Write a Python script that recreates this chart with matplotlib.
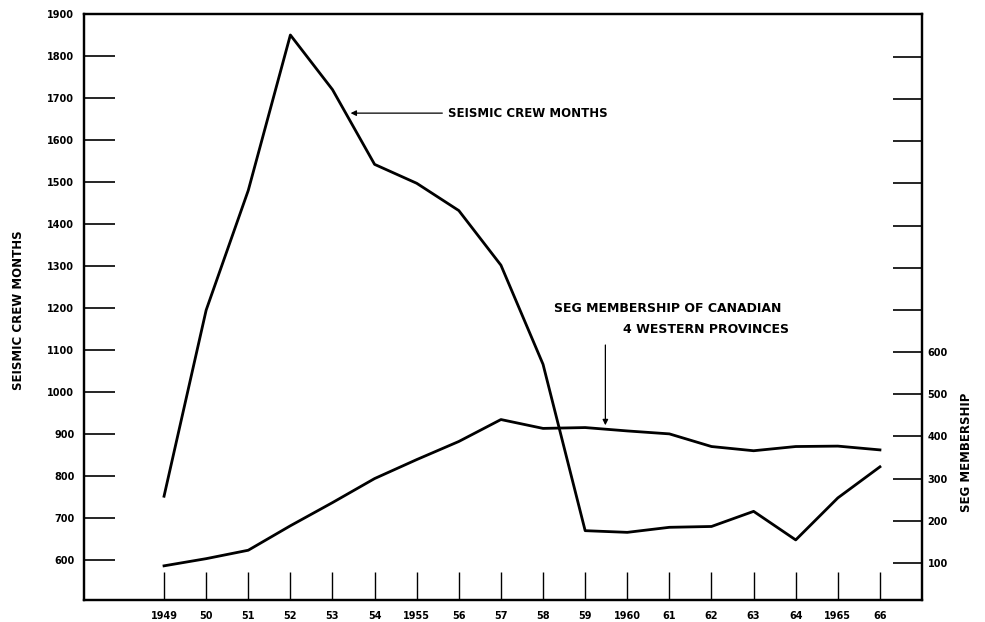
import matplotlib
matplotlib.use("Agg")
import matplotlib.pyplot as plt
from matplotlib.ticker import FixedLocator, FixedFormatter

years = [1949, 1950, 1951, 1952, 1953, 1954, 1955, 1956, 1957,
         1958, 1959, 1960, 1961, 1962, 1963, 1964, 1965, 1966]
year_labels = ["1949", "50", "51", "52", "53", "54", "1955", "56", "57",
               "58", "59", "1960", "61", "62", "63", "64", "1965", "66"]

crew_months = [752, 1195, 1480, 1850, 1720, 1542, 1497, 1432, 1302,
               1066, 670, 666, 678, 680, 716, 648, 748, 822]
seg_members = [93, 110, 130, 188, 243, 300, 345, 388, 440,
               419, 421, 413, 406, 376, 366, 376, 377, 368]

left_ticks = list(range(600, 2000, 100))
right_ticks = list(range(100, 1400, 100))
right_labels = [str(v) if v <= 600 else "" for v in right_ticks]

plt.rcParams["font.family"] = "DejaVu Sans"
plt.rcParams["font.weight"] = "bold"

fig = plt.figure(figsize=(9.85, 6.22), dpi=100)
ax = fig.add_axes([0.0853, 0.0354, 0.8508, 0.9421])
ax2 = ax.twinx()

ax.plot(years, crew_months, color="black", lw=2.0)
ax2.plot(years, seg_members, color="black", lw=2.0)

ax.set_xlim(1947.1, 1967.0)
ax.set_ylim(505, 1900)
ax2.set_ylim(12, 1402)

ax.set_xticks(years)
ax.set_xticklabels(year_labels, fontsize=7, fontweight="bold")
ax.set_yticks(left_ticks)
ax.set_yticklabels([str(v) for v in left_ticks], fontsize=7, fontweight="bold")
ax2.yaxis.set_major_locator(FixedLocator(right_ticks))
ax2.yaxis.set_major_formatter(FixedFormatter(right_labels))

ax.tick_params(axis="x", direction="in", length=20, width=1.0, pad=8)
ax.tick_params(axis="y", direction="in", length=22, width=1.2, pad=7)
ax2.tick_params(axis="y", direction="in", length=21, width=1.2, pad=4,
                labelsize=7)
for lab in ax2.get_yticklabels():
    lab.set_fontweight("bold")

for a in (ax, ax2):
    for sp in a.spines.values():
        sp.set_linewidth(1.6)

# axis titles, placed like the original
fig.text(19 / 985, 1 - 310 / 622, "SEISMIC CREW MONTHS",
         rotation=90, fontsize=8.5, fontweight="bold", ha="center", va="center")
fig.text(966 / 985, 1 - 452 / 622, "SEG MEMBERSHIP",
         rotation=90, fontsize=8.5, fontweight="bold", ha="center", va="center")

ax.annotate("SEISMIC CREW MONTHS", xy=(1953.43, 1664), xytext=(1955.74, 1664),
            fontsize=8.5, fontweight="bold", va="center", ha="left",
            arrowprops=dict(arrowstyle="-|>", color="black", lw=0.9,
                            mutation_scale=8, shrinkA=2, shrinkB=0))

ax.text(1958.27, 1198, "SEG MEMBERSHIP OF CANADIAN", fontsize=9,
        fontweight="bold", va="center", ha="left")
ax.text(1959.9, 1148, "4 WESTERN PROVINCES", fontsize=9,
        fontweight="bold", va="center", ha="left")
ax.annotate("", xy=(1959.48, 921), xytext=(1959.48, 1112),
            arrowprops=dict(arrowstyle="-|>", color="black", lw=0.9,
                            mutation_scale=8, shrinkA=0, shrinkB=0))

fig.savefig("out.png", dpi=100)
